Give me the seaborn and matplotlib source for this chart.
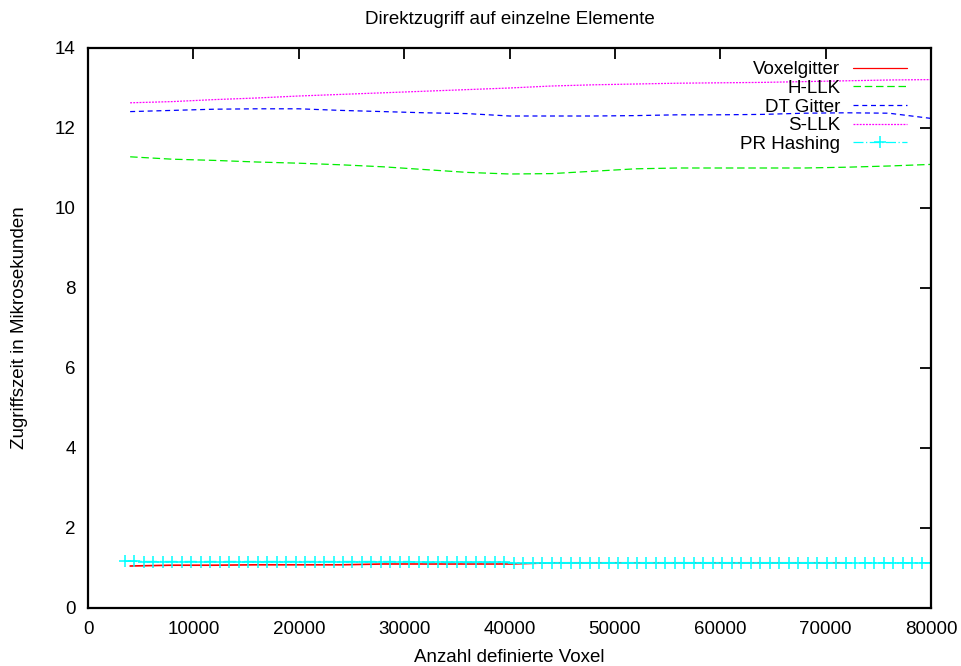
import numpy as np
import pandas as pd
import matplotlib
matplotlib.use("Agg")
import matplotlib.pyplot as plt
import seaborn as sns

# ---- data ----
x_main = [4000, 8000, 12000, 16000, 20000, 24000, 28000, 32000, 36000, 40000,
          44000, 48000, 52000, 56000, 60000, 64000, 68000, 72000, 76000, 80000]

voxelgitter = [1.05, 1.07, 1.07, 1.08, 1.08, 1.08, 1.10, 1.10, 1.10, 1.10,
               1.13, 1.13, 1.13, 1.13, 1.13, 1.13, 1.13, 1.13, np.nan, np.nan]
h_llk = [11.28, 11.22, 11.19, 11.15, 11.12, 11.08, 11.03, 10.96, 10.89, 10.85,
         10.86, 10.92, 10.98, 11.00, 11.00, 11.00, 11.00, 11.02, 11.05, 11.09]
dt_gitter = [12.41, 12.44, 12.47, 12.48, 12.48, 12.44, 12.41, 12.38, 12.36, 12.30,
             12.30, 12.30, 12.31, 12.33, 12.33, 12.34, 12.37, 12.38, 12.37, 12.24]
s_llk = [12.63, 12.66, 12.71, 12.75, 12.80, 12.84, 12.88, 12.92, 12.96, 13.00,
         13.05, 13.08, 13.10, 13.12, 13.13, 13.14, 13.16, 13.18, 13.20, 13.21]

x_pr = [3500, 4400, 5300, 6200, 7100, 8000, 8900, 9800, 10700, 11600,
        12500, 13400, 14300, 15200, 16100, 17000, 17900, 18800, 19700, 20600,
        21500, 22400, 23300, 24200, 25100, 26000, 26900, 27800, 28700, 29600,
        30500, 31400, 32300, 33200, 34100, 35000, 35900, 36800, 37700, 38600,
        39500, 40400, 41300, 42200, 43100, 44000, 44900, 45800, 46700, 47600,
        48500, 49400, 50300, 51200, 52100, 53000, 53900, 54800, 55700, 56600,
        57500, 58400, 59300, 60200, 61100, 62000, 62900, 63800, 64700, 65600,
        66500, 67400, 68300, 69200, 70100, 71000, 71900, 72800, 73700, 74600,
        75500, 76400, 77300, 78200, 79100, 80000]
pr_hashing = [1.17, 1.17, 1.16, 1.16, 1.16, 1.16, 1.16, 1.16, 1.16, 1.16,
              1.16, 1.16, 1.16, 1.16, 1.16, 1.16, 1.16, 1.16, 1.16, 1.16,
              1.16, 1.16, 1.16, 1.16, 1.16, 1.16, 1.16, 1.16, 1.16, 1.16,
              1.16, 1.14, 1.14, 1.14, 1.14, 1.14, 1.14, 1.14, 1.14, 1.14,
              1.14, 1.13, 1.13, 1.13, 1.13, 1.13, 1.13, 1.13, 1.13, 1.13,
              1.13, 1.13, 1.13, 1.13, 1.13, 1.13, 1.13, 1.13, 1.13, 1.13,
              1.13, 1.13, 1.13, 1.13, 1.13, 1.13, 1.13, 1.13, 1.13, 1.13,
              1.13, 1.13, 1.13, 1.13, 1.13, 1.13, 1.13, 1.13, 1.13, 1.13,
              1.13, 1.13, 1.13, 1.13, 1.13, 1.13]

title = "Direktzugriff auf einzelne Elemente"
xlabel = "Anzahl definierte Voxel"
ylabel = "Zugriffszeit in Mikrosekunden"
xticks = [0, 10000, 20000, 30000, 40000, 50000, 60000, 70000, 80000]
yticks = [0, 2, 4, 6, 8, 10, 12, 14]

# ---- style ----
sns.set_theme(style="white")
plt.rcParams['font.family'] = ['Liberation Sans', 'DejaVu Sans']
plt.rcParams['text.color'] = 'black'
plt.rcParams['axes.labelcolor'] = 'black'
plt.rcParams['xtick.color'] = 'black'
plt.rcParams['ytick.color'] = 'black'
FS = 13.5

fig = plt.figure(figsize=(9.61, 6.66), dpi=100)
ax = fig.add_axes([88 / 961, 58 / 666, 843 / 961, 560 / 666])

lw = 0.9
sns.lineplot(x=x_main, y=voxelgitter, ax=ax, color="#ff0000", lw=1.2,
             label="Voxelgitter")
sns.lineplot(x=x_main, y=h_llk, ax=ax, color="#00ee00", lw=lw,
             label="H-LLK").lines[-1].set_dashes([6, 3])
sns.lineplot(x=x_main, y=dt_gitter, ax=ax, color="#0000ff", lw=lw,
             label="DT Gitter").lines[-1].set_dashes([4, 3])
sns.lineplot(x=x_main, y=s_llk, ax=ax, color="#ff00ff", lw=lw,
             label="S-LLK").lines[-1].set_dashes([1.5, 1])
sns.lineplot(x=x_pr, y=pr_hashing, ax=ax, color="#00ffff", lw=1.1,
             label="PR Hashing", marker="+", markersize=8,
             markeredgewidth=1.1, markeredgecolor="#00ffff")
ax.lines[-1].set_dashes([8, 2, 1, 2])

ax.set_xlim(0, 80000)
ax.set_ylim(0, 14)
ax.set_xticks(xticks)
ax.set_yticks(yticks)
ax.set_xticklabels([str(v) for v in xticks], fontsize=FS)
ax.set_yticklabels([str(v) for v in yticks], fontsize=FS)
ax.tick_params(direction="in", length=8, width=1.3, top=True, right=True,
               colors="black", pad=9)
for s in ax.spines.values():
    s.set_color("black")
    s.set_linewidth(1.6)

ax.set_title(title, fontsize=FS, pad=17, color="black")
ax.set_xlabel(xlabel, fontsize=FS, labelpad=8)
ax.set_ylabel(ylabel, fontsize=FS, labelpad=19)

leg = ax.legend(loc="upper right", bbox_to_anchor=(0.987, 1.0), frameon=False,
                markerfirst=False, fontsize=FS, handlelength=2.9,
                labelspacing=0.08, handletextpad=0.65, borderaxespad=0.3)
for t in leg.get_texts():
    t.set_color("black")
for h in leg.legend_handles:
    h.set_linewidth(0.9)

fig.savefig("out.png", dpi=100)
